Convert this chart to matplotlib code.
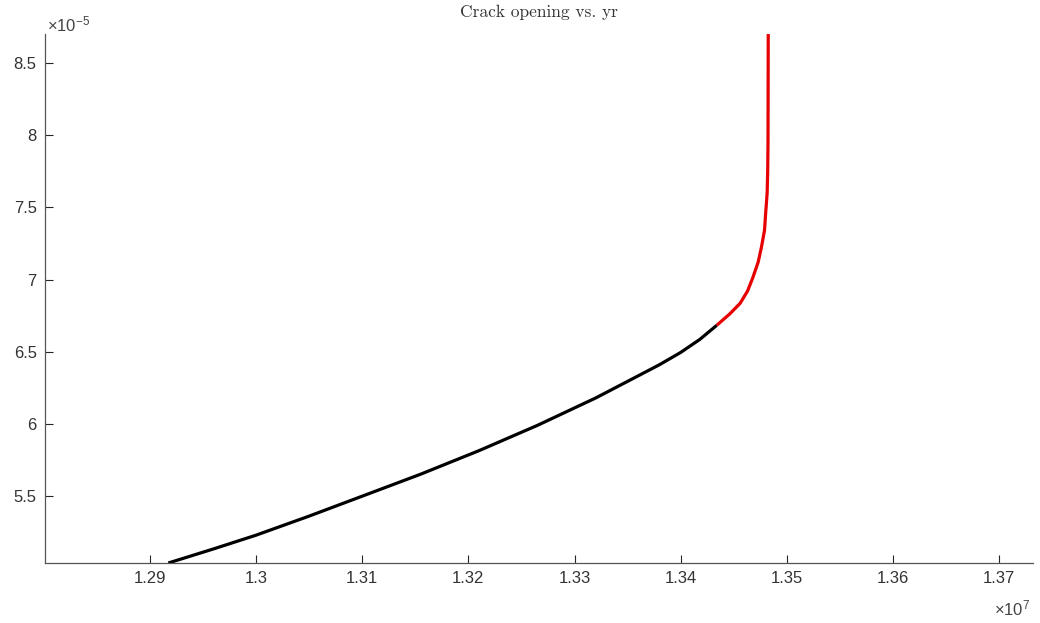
import numpy as np
import matplotlib
matplotlib.use('Agg')
import matplotlib.pyplot as plt

plt.rcParams['font.family'] = ['Liberation Sans', 'DejaVu Sans']
plt.rcParams['mathtext.fontset'] = 'custom'
plt.rcParams['mathtext.rm'] = 'Liberation Sans'
plt.rcParams['mathtext.default'] = 'regular'

# years (x 1e7) and crack opening (x 1e-5)
yr_black = [1.29172, 1.2960, 1.3000, 1.3050, 1.3100, 1.3155, 1.3210, 1.3265,
            1.3320, 1.3355, 1.3380, 1.3400, 1.3418, 1.3434]
open_black = [5.037, 5.135, 5.230, 5.362, 5.500, 5.652, 5.815, 5.990,
              6.180, 6.314, 6.410, 6.495, 6.585, 6.683]
yr_red = [1.3434, 1.3446, 1.3456, 1.3463, 1.3468, 1.3473, 1.3476, 1.3479,
          1.3480, 1.34815, 1.34820, 1.34823, 1.34824, 1.34825]
open_red = [6.683, 6.760, 6.835, 6.920, 7.013, 7.120, 7.220, 7.340,
            7.450, 7.600, 7.750, 7.950, 8.300, 8.700]

xticks = [1.29, 1.30, 1.31, 1.32, 1.33, 1.34, 1.35, 1.36, 1.37]
xlabels = ['1.29', '1.3', '1.31', '1.32', '1.33', '1.34', '1.35', '1.36', '1.37']
yticks = [5.5, 6.0, 6.5, 7.0, 7.5, 8.0, 8.5]
ylabels = ['5.5', '6', '6.5', '7', '7.5', '8', '8.5']

fig = plt.figure(figsize=(10.4, 6.23), dpi=100)
ax = fig.add_axes([45/1040, 60/623, (1033-45)/1040, (563-34)/623])

ax.plot(yr_black, open_black, color='black', linewidth=2.3,
        solid_capstyle='butt', solid_joinstyle='round')
ax.plot(yr_red, open_red, color='#e60000', linewidth=2.3,
        solid_capstyle='butt', solid_joinstyle='round')

ax.set_xlim(1.2801, 1.3732)
ax.set_ylim(5.037, 8.70)
ax.set_xticks(xticks)
ax.set_xticklabels(xlabels)
ax.set_yticks(yticks)
ax.set_yticklabels(ylabels)

for s in ['top', 'right']:
    ax.spines[s].set_visible(False)
for s in ['left', 'bottom']:
    ax.spines[s].set_color('#555555')
    ax.spines[s].set_linewidth(0.9)
ax.tick_params(direction='in', length=6, width=0.8, colors='#262626',
               labelsize=12, labelcolor='#333333', pad=6)

ax.set_title('Crack opening vs. yr', fontsize=12.5, color='#333333', pad=12,
             fontfamily='cmr10')

fig.text(47/1040, 1 - 31/623, r'$\times10^{-5}$', fontsize=12, color='#444444', va='baseline')
fig.text(994/1040, 1 - 615/623, r'$\times10^{7}$', fontsize=12, color='#444444', va='baseline')

fig.savefig('out.png', dpi=100)
plt.close()
